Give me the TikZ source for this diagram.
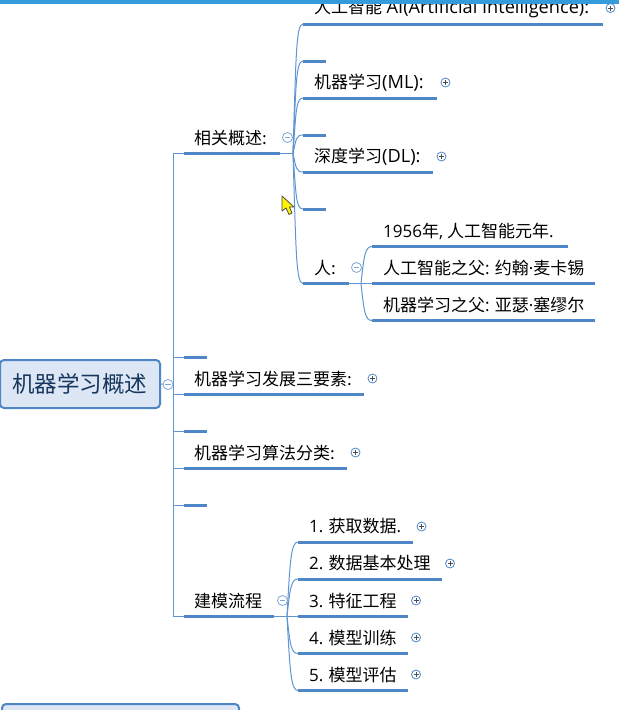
\documentclass[tikz,border=0pt]{standalone}
\usepackage{fontspec}
\setmainfont{Noto Sans CJK SC}
\newfontfamily\latinf{Open Sans}
\newfontfamily\latinb[Scale=1.07]{Open Sans}
\usetikzlibrary{calc}
\definecolor{barc}{HTML}{4F86C8}
\definecolor{thinc}{HTML}{5F96D2}
\definecolor{rootfill}{HTML}{DCE6F4}
\definecolor{rootline}{HTML}{4F86C6}
\definecolor{roottext}{HTML}{17365D}
\definecolor{topbar}{HTML}{349CDB}
\definecolor{minuscol}{HTML}{7FA6D6}
\tikzset{
  toptext/.style={anchor=west,inner sep=0pt,font=\fontsize{17}{20}\selectfont,text=black},
  underline/.style={draw=barc,line width=3pt},
  conn/.style={draw=thinc,line width=1pt},
  rootbox/.style={draw=rootline,fill=rootfill,line width=2pt,rounded corners=4pt,inner sep=0pt},
  plusmark/.style={circle,draw=barc,fill=white,line width=.8pt,minimum size=9pt,inner sep=0pt,
    path picture={\draw[black!70,line width=.6pt] (path picture bounding box.center)+(-2.5pt,0)--+(2.5pt,0);
                  \draw[black!70,line width=.6pt] (path picture bounding box.center)+(0,-2.5pt)--+(0,2.5pt);}},
  minusmark/.style={circle,draw=minuscol,fill=white,line width=.8pt,minimum size=10pt,inner sep=0pt,
    path picture={\draw[minuscol,line width=.8pt] (path picture bounding box.center)+(-2.8pt,0)--+(2.8pt,0);}}
}
% \topic{name}{x1}{x2}{y}{textx}{text}
\newcommand{\topic}[6]{%
  \coordinate (#1-l) at (#2,#4);
  \coordinate (#1-r) at (#3,#4);
  \path[underline] (#1-l) -- (#1-r);
  \node[toptext] (#1) at (#5,#4-15.5) {#6};
}
\newcommand{\curved}[2]{%
  \path[conn] (#1) .. controls ($(#1)!0.75!(#1|-#2)+(3,0)$) and ($(#2)+(-7,0)$) .. (#2);
}
\begin{document}
\begin{tikzpicture}[x=1pt,y=-1pt]
\useasboundingbox (0,0) rectangle (619,710);
\clip (0,0) rectangle (619,710);
\fill[white] (0,0) rectangle (619,710);

% root
\node[rootbox,minimum width=160pt,minimum height=48pt,text=roottext,font=\fontsize{22.5}{26}\selectfont] (root) at (80,384) {\raisebox{-2pt}{机器学习概述}};
\node[rootbox,minimum width=237pt,minimum height=40pt,anchor=north west] (next) at (1,703) {};

% first level
\coordinate (spine) at (173.5,384.5);
\topic{a}{184}{280}{153.5}{194}{相关概述:}
\topic{s1}{184}{207}{357}{184}{}
\topic{b}{184}{364}{394.5}{194}{机器学习发展三要素:}
\topic{s2}{184}{207}{431}{184}{}
\topic{c}{184}{347}{468}{194}{机器学习算法分类:}
\topic{s3}{184}{207}{505}{184}{}
\topic{d}{184}{274}{616.5}{194}{建模流程}
\path[conn] (root.east) -- (spine);
\path[conn] (a-l) -- (a-l-|spine) -- (d-l-|spine) -- (d-l);
\foreach \n in {s1,b,s2,c,s3} {\path[conn] (\n-l-|spine) -- (\n-l);}

% second level under a
\coordinate (hubA) at (293,153.5);
\path[conn] (a-r) -- (hubA);
\topic{a1}{303}{603}{24}{314}{人工智能\hspace{4.5pt}{\latinb AI(Artificial Intelligence):}}
\topic{a2}{303}{326}{61}{314}{}
\topic{a3}{303}{437}{98}{314}{机器学习{\latinb (ML):}}
\topic{a4}{303}{326}{135}{314}{}
\topic{a5}{303}{433}{172}{314}{深度学习{\latinb (DL):}}
\topic{a6}{303}{326}{209}{314}{}
\topic{a7}{303}{349}{283.5}{314}{人:}
\foreach \n in {a1,a2,a3,a4,a5,a6,a7} {\curved{hubA}{\n-l}}

% people
\coordinate (hubP) at (361,283.5);
\path[conn] (a7-r) -- (hubP);
\topic{p1}{372}{568}{246.5}{383}{{\latinf 1956}年{\latinf ,} 人工智能元年{\latinf .}}
\topic{p2}{372}{595}{283.5}{383}{人工智能之父{\latinf :} 约翰{\latinf ·}麦卡锡}
\topic{p3}{372}{595}{320.5}{383}{机器学习之父{\latinf :} 亚瑟{\latinf ·}塞缪尔}
\path[conn] (hubP) -- (p2-l);
\curved{hubP}{p1-l}
\curved{hubP}{p3-l}

% process
\coordinate (hubD) at (287,616.5);
\path[conn] (d-r) -- (hubD);
\topic{d1}{298}{413}{542}{309}{{\latinf 1.} 获取数据{\latinf .}}
\topic{d2}{298}{442}{579}{309}{{\latinf 2.} 数据基本处理}
\topic{d3}{298}{408}{616.5}{309}{{\latinf 3.} 特征工程}
\topic{d4}{298}{408}{653.5}{309}{{\latinf 4.} 模型训练}
\topic{d5}{298}{408}{690.5}{309}{{\latinf 5.} 模型评估}
\path[conn] (hubD) -- (d3-l);
\foreach \n in {d1,d2,d4,d5} {\curved{hubD}{\n-l}}

% collapse marks
\node[minusmark] (m0) at (168,384.5) {};
\node[minusmark] (m1) at (287.5,137.5) {};
\node[minusmark] (m2) at (356.5,267.5) {};
\node[minusmark] (m3) at (282.5,600.5) {};
\node[plusmark] (n1) at (610.5,8) {};
\node[plusmark] (n2) at (445.5,82.5) {};
\node[plusmark] (n3) at (441.5,156.5) {};
\node[plusmark] (n4) at (372.5,378.5) {};
\node[plusmark] (n5) at (355.5,452.5) {};
\node[plusmark] (n6) at (421.5,526.5) {};
\node[plusmark] (n7) at (450,563.5) {};
\node[plusmark] (n8) at (416,600.5) {};
\node[plusmark] (n9) at (416,637.5) {};
\node[plusmark] (n10) at (416,674.5) {};

% mouse cursor
\filldraw[fill=yellow,draw=black!70,line width=.8pt,line join=round]
  (282,196) -- (282,211) -- (286,208) -- (289,214.5) -- (292,213) -- (289.5,207) -- (294,207) -- cycle;

% window top edge
\fill[topbar] (0,0) rectangle (619,4);
\end{tikzpicture}
\end{document}
